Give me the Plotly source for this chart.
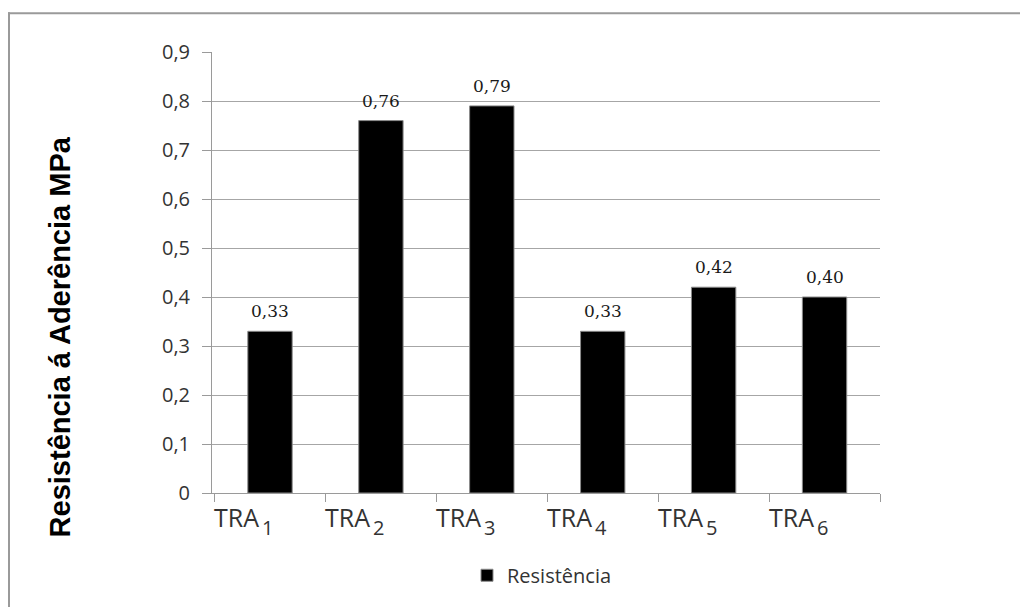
import plotly.graph_objects as go

categories = ["TRA1", "TRA2", "TRA3", "TRA4", "TRA5", "TRA6"]
label_stems = ["TRA", "TRA", "TRA", "TRA", "TRA", "TRA"]
label_indices = ["1", "2", "3", "4", "5", "6"]
resistencia = [0.33, 0.76, 0.79, 0.33, 0.42, 0.40]
series_name = "Resistência"
y_title = "Resistência á Aderência MPa"

W, H = 1020, 607
L, R, T, B = 212, 140, 52, 110
pw, ph = W - L - R, H - T - B


def px_x(p):
    return (p - L) / pw


def px_y(p):
    return (H - B - p) / ph


fig = go.Figure()
fig.add_trace(go.Bar(
    x=categories, y=resistencia, name=series_name,
    marker=dict(color="#000000", line=dict(color="#8a8a8a", width=1)),
    width=0.4, showlegend=True,
))

annotations = []
# value labels above each bar
for c, v in zip(categories, resistencia):
    annotations.append(dict(
        x=c, y=v, xref="x", yref="y", text=f"{v:.2f}".replace(".", ","),
        showarrow=False, yshift=20, yanchor="middle",
        font=dict(family="DejaVu Serif", size=17, color="#1a1a1a"),
    ))
# category labels: stem left-aligned at the category boundary, index set low as a subscript
label_font = dict(family="Open Sans", size=25, color="#333333")
index_font = dict(family="Open Sans", size=20, color="#333333")
for c, stem, idx in zip(categories, label_stems, label_indices):
    annotations.append(dict(
        x=c, y=px_y(502), xref="x", yref="paper", text=stem,
        showarrow=False, xanchor="left", yanchor="top", xshift=-58,
        font=label_font,
    ))
    annotations.append(dict(
        x=c, y=px_y(516), xref="x", yref="paper", text=idx,
        showarrow=False, xanchor="left", yanchor="top", xshift=-10,
        font=index_font,
    ))
# vertical axis title
annotations.append(dict(
    x=px_x(60), y=px_y(340), xref="paper", yref="paper", text=y_title,
    textangle=-90, showarrow=False, xanchor="center", yanchor="middle",
    font=dict(family="Liberation Sans", size=29, color="#000000", weight="bold"),
))

# open frame along the top and left edges, drawn as thin filled bands
frame_color = "#9a9a9a"
frame = [
    dict(type="rect", xref="paper", yref="paper",
         x0=px_x(8), x1=px_x(1040), y0=px_y(14), y1=px_y(12),
         fillcolor=frame_color, line=dict(width=0)),
    dict(type="rect", xref="paper", yref="paper",
         x0=px_x(8), x1=px_x(10), y0=px_y(620), y1=px_y(12),
         fillcolor=frame_color, line=dict(width=0)),
]

fig.update_layout(
    width=W, height=H,
    margin=dict(l=L, r=R, t=T, b=B),
    paper_bgcolor="white", plot_bgcolor="white",
    separators=", ",
    annotations=annotations,
    shapes=frame,
    legend=dict(
        orientation="h", x=px_x(542), y=px_y(580), xanchor="center",
        yanchor="middle", font=dict(family="Open Sans", size=20, color="#333333"),
        bgcolor="rgba(0,0,0,0)", itemwidth=30,
    ),
    bargap=0.6,
)

fig.update_xaxes(
    showticklabels=False, tickson="boundaries", ticks="outside", ticklen=8,
    tickcolor="#9a9a9a", showline=True, linecolor="#9a9a9a", linewidth=1,
    showgrid=False, zeroline=False,
)
fig.update_yaxes(
    range=[0, 0.9], dtick=0.1, tick0=0, ticks="outside", ticklen=9,
    tickcolor="#9a9a9a", showline=True, linecolor="#9a9a9a", linewidth=1,
    showgrid=True, gridcolor="#a6a6a6", gridwidth=1, zeroline=False,
    tickfont=dict(family="Open Sans", size=20, color="#333333"),
    ticklabelstandoff=8,
)

fig.write_html("out.html")
